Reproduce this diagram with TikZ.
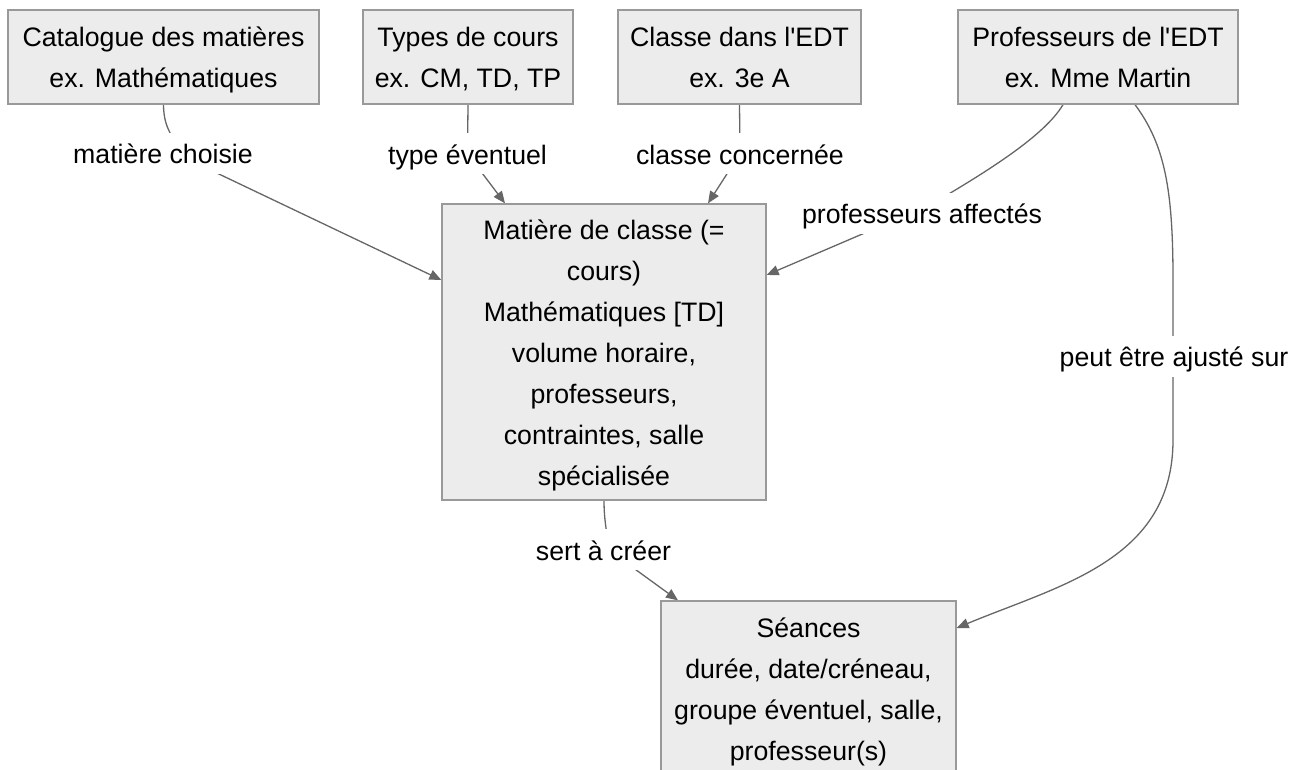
\documentclass[tikz,border=0pt]{standalone}
\usepackage{fontspec}
\setmainfont{Liberation Sans}
\usetikzlibrary{arrows.meta,backgrounds,calc}
\definecolor{boxfill}{HTML}{ECECEC}
\definecolor{boxline}{HTML}{999999}
\definecolor{edgecol}{HTML}{666666}
\newcommand{\mystrut}{\rule[-10.2pt]{0pt}{41pt}}
\begin{document}
\begin{tikzpicture}[x=1pt,y=-1pt,
  every node/.style={font=\fontsize{26.7}{41}\selectfont, text=black},
  box/.style={draw=boxline, fill=boxfill, line width=1.3pt, inner sep=0pt, align=center},
  lbl/.style={fill=white, inner sep=0pt},
  edgeline/.style={draw=edgecol, line width=1.3pt},
  arr/.style={edgeline, -{Triangle[length=12pt,width=10pt]}}]
\useasboundingbox (0,0) rectangle (1292,769);
\clip (0,0) rectangle (1292,769);
% boxes
\node[box, minimum width=311pt, minimum height=94pt] (cat) at (163.5,57) {\mystrut Catalogue des matières\\ex. Mathématiques\mystrut};
\node[box, minimum width=210pt, minimum height=94pt] (typ) at (468,57) {\mystrut Types de cours\\ex. CM, TD, TP\mystrut};
\node[box, minimum width=243pt, minimum height=94pt] (cls) at (739.5,57) {\mystrut Classe dans l\textquotesingle EDT\\ex. 3e A\mystrut};
\node[box, minimum width=280pt, minimum height=94pt] (prof) at (1098,57) {\mystrut Professeurs de l\textquotesingle EDT\\ex. Mme Martin\mystrut};
\node[box, minimum width=324pt, minimum height=296pt] (mid) at (604,352) {\mystrut Matière de classe (=\\cours)\\Mathématiques [TD]\\volume horaire,\\professeurs,\\contraintes, salle\\spécialisée\mystrut};
\node[box, minimum width=295pt, minimum height=175pt] (bot) at (808.5,688.5) {\mystrut Séances\\durée, date/créneau,\\groupe éventuel, salle,\\professeur(s)\mystrut};
% labels
\node[lbl] (l1) at (163,153.5) {\mystrut matière choisie};
\node[lbl] (l2) at (467.5,153.7) {\mystrut type éventuel};
\node[lbl] (l3) at (740,153.7) {\mystrut classe concernée};
\node[lbl] (l4) at (922,213) {\mystrut professeurs affectés};
\node[lbl] (l5) at (1174,356) {\mystrut peut être ajusté sur};
\node[lbl] (l6) at (603.5,549.7) {\mystrut sert à créer};
% edges
\begin{scope}[on background layer]
\draw[arr] (cat.south) .. controls (163.5,130) and (175,145) .. (200,165) -- (mid.west |- 0,280);
\draw[arr] (typ.south) -- (l2.center) -- (505,0 |- mid.north);
\draw[arr] (cls.south) -- (l3.center) -- (708,0 |- mid.north);
\draw[arr] ([xshift=-35pt]prof.south) .. controls (1045,135) and (990,170) .. (930,205) -- (mid.east |- 0,275);
\draw[arr] ([xshift=37pt]prof.south) .. controls (1165,145) and (1173,190) .. (1173,280) -- (1173,440) .. controls (1173,560) and (1060,585) .. (bot.east |- 0,628);
\draw[arr] (mid.south) .. controls (604,520) and (607,535) .. (610,551) -- (678,0 |- bot.north);
\end{scope}
\end{tikzpicture}
\end{document}
